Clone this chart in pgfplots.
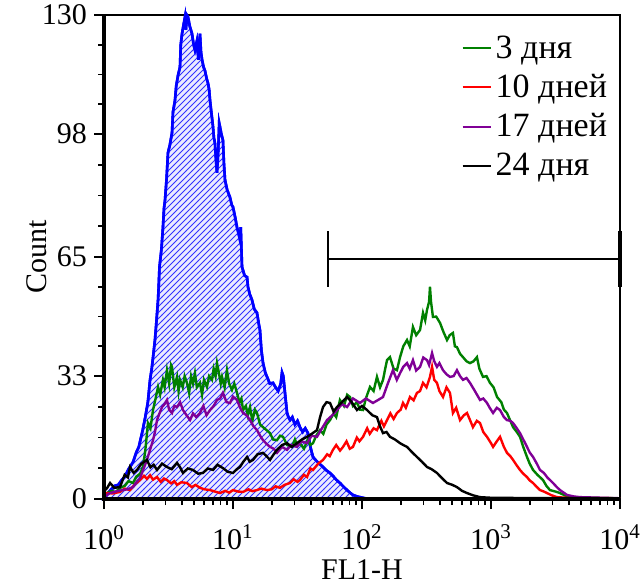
\documentclass[border=0pt]{standalone}
\usepackage{fontspec}
\setmainfont{LiberationSerif}[Extension=.ttf, UprightFont=*-Regular,
  BoldFont=*-Bold, ItalicFont=*-Italic, BoldItalicFont=*-BoldItalic]
\usepackage{pgfplots}
\pgfplotsset{compat=1.18}
\usetikzlibrary{patterns}

\definecolor{cgreen}{RGB}{0,128,0}
\definecolor{cred}{RGB}{255,0,0}
\definecolor{cpurple}{RGB}{128,0,150}
\definecolor{cblue}{RGB}{0,0,255}

% x values are log10(FL1-H), y values are counts
\pgfplotstableread{
lx count
0.00 0
0.03 1.5
0.05 2.4
0.08 3.5
0.11 3.8
0.14 5.2
0.16 5.9
0.19 8.0
0.225 9.9
0.25 12.5
0.27 14.0
0.30 18.5
0.32 22
0.34 26
0.357 32
0.37 35
0.38 38
0.395 42.7
0.405 47
0.419 53.5
0.425 58
0.43 62.3
0.445 67
0.457 73
0.465 78
0.473 80.3
0.485 86
0.496 93
0.51 95
0.527 98.3
0.535 104
0.550 107
0.56 111
0.575 114
0.589 116
0.595 122
0.605 125
0.615 127
0.628 129.5
0.635 126
0.642 130
0.651 129.5
0.665 127
0.682 125
0.695 122
0.705 120.6
0.72 123
0.732 118
0.744 125
0.752 120
0.760 118
0.772 116
0.783 115
0.795 113
0.806 111.7
0.815 110
0.822 107
0.835 103
0.845 100
0.852 97
0.860 95.6
0.868 91
0.876 87.6
0.885 93
0.893 101
0.899 100
0.91 98
0.922 96.4
0.93 90
0.938 85.7
0.955 83
0.977 81
0.99 79
1.0 78.4
1.015 76
1.031 73
1.045 71
1.054 69.6
1.06 73
1.070 62.3
1.09 60
1.109 59.6
1.116 57
1.13 55
1.147 53.5
1.165 51
1.186 50
1.20 47
1.209 45.4
1.22 40
1.233 36.5
1.25 34
1.264 32.8
1.285 31
1.31 31.2
1.33 30
1.35 29
1.37 31
1.38 34
1.39 33
1.403 28.5
1.419 23.1
1.43 22
1.442 21.2
1.46 22
1.48 20
1.50 21
1.519 19.3
1.54 18
1.56 19
1.581 17.7
1.60 14
1.620 11.3
1.64 10.5
1.66 9.8
1.698 8.6
1.72 7.8
1.752 7.0
1.78 6
1.80 5.2
1.829 4.3
1.86 3.2
1.884 2.4
1.91 1.6
1.930 1.1
1.96 0.7
1.984 0.5
2.05 0
4.0 0
}\control

\pgfplotstableread{
lx count
0.00 0.8
0.023 1.6
0.06 2.2
0.09 1.8
0.124 3.0
0.16 3.5
0.19 4.8
0.225 4.3
0.25 6.0
0.28 6.8
0.302 8.6
0.32 13
0.341 20.4
0.36 19
0.380 23.9
0.40 27
0.419 30.1
0.435 28
0.457 32
0.47 30
0.488 34.6
0.505 31
0.52 36
0.527 35.5
0.545 30
0.566 32.8
0.578 29
0.589 32
0.61 30
0.625 33
0.643 31.2
0.66 28.5
0.675 33
0.69 31
0.705 33.8
0.72 30
0.744 31.2
0.76 28
0.775 32
0.798 30.1
0.815 33
0.837 32
0.85 35
0.865 33
0.876 36.5
0.89 34
0.905 31
0.915 32.8
0.935 30
0.953 34.6
0.97 31
0.992 29.3
1.01 31
1.031 28.5
1.05 26
1.065 27
1.078 23.9
1.10 25
1.115 22.5
1.132 24.7
1.15 21
1.17 24
1.186 23.1
1.21 20
1.233 19.3
1.26 18.5
1.287 17.7
1.31 16
1.341 15.8
1.365 17
1.388 16.7
1.42 14.5
1.457 14.0
1.48 16
1.50 14.2
1.519 15.0
1.55 13.5
1.58 16
1.60 14.5
1.620 15.0
1.645 17
1.674 18.5
1.70 17.5
1.725 20
1.752 21.2
1.78 23
1.80 22
1.829 26.6
1.86 25
1.885 28
1.907 27.4
1.93 25
1.96 26
1.985 24
2.008 23.9
2.03 27
2.062 30.1
2.09 29
2.116 32.8
2.14 30
2.163 32
2.18 35
2.194 37.3
2.217 38.1
2.245 35
2.271 34.6
2.295 38.1
2.32 41
2.349 42.7
2.37 41
2.395 46.2
2.42 44
2.450 45.4
2.473 50
2.49 48
2.504 50.8
2.52 53
2.527 57
2.535 53
2.550 48.9
2.575 49
2.605 47.3
2.63 45
2.659 42.7
2.68 44
2.705 44.6
2.72 41
2.736 40.8
2.76 39
2.783 38.1
2.81 37
2.837 36.5
2.865 37
2.891 38.1
2.91 35
2.938 32.8
2.965 33
2.992 31.2
3.02 30
3.047 27.4
3.08 26
3.10 24
3.124 23.1
3.15 21
3.171 19.3
3.20 18
3.225 16.7
3.25 14
3.279 11.3
3.30 9.5
3.326 7.8
3.36 6.5
3.403 5.1
3.43 3.5
3.457 2.4
3.50 2.0
3.535 1.6
3.57 1.0
3.612 0.5
3.70 0.3
4.0 0.2
}\dayiii

\pgfplotstableread{
lx count
0.00 0.5
0.023 1.6
0.07 1.5
0.124 1.9
0.16 2.8
0.202 2.4
0.24 4.0
0.279 5.1
0.31 6.2
0.333 5.4
0.357 6.4
0.38 5.2
0.411 5.9
0.44 4.6
0.465 5.5
0.488 5.1
0.52 4.2
0.545 4.8
0.566 3.8
0.60 4.5
0.643 4.3
0.68 3.2
0.71 3.8
0.744 3.0
0.78 2.6
0.822 2.4
0.86 2.0
0.899 1.6
0.94 2.2
0.97 1.7
1.0 2.4
1.04 2.0
1.078 1.9
1.12 2.6
1.15 2.1
1.186 2.4
1.22 2.8
1.264 2.4
1.30 2.6
1.33 3.4
1.364 3.0
1.40 3.8
1.442 4.3
1.47 5.3
1.50 4.6
1.519 5.1
1.55 6.5
1.574 5.9
1.60 8.2
1.620 7.8
1.66 9.5
1.698 10.5
1.73 12
1.75 11.5
1.775 13.2
1.80 14.5
1.83 13
1.853 14.0
1.88 15.5
1.905 13.5
1.930 14.0
1.96 16.5
1.98 15.5
2.008 16.7
2.04 19
2.06 17.5
2.09 19
2.116 18.5
2.15 21
2.17 19.5
2.194 21.2
2.22 23
2.245 21.5
2.271 23.1
2.30 24
2.318 25.8
2.34 24.5
2.372 27.4
2.40 26.5
2.426 28.5
2.45 29
2.473 31.2
2.50 30
2.527 32.8
2.543 35.5
2.56 32
2.581 31.2
2.60 29
2.628 27.4
2.655 30
2.682 28.5
2.705 23.1
2.73 24.5
2.760 21.2
2.79 22.5
2.814 23.1
2.84 21
2.860 19.3
2.89 21
2.915 20.4
2.94 18
2.969 16.7
3.0 15
3.016 14.0
3.045 15.5
3.070 16.7
3.10 14
3.124 12.4
3.15 11.5
3.171 10.5
3.20 9
3.225 7.8
3.25 6.8
3.279 5.9
3.30 5
3.326 4.3
3.35 3.4
3.380 2.4
3.41 2.0
3.434 1.6
3.47 1.0
3.512 0.5
3.60 0.3
4.0 0.2
}\dayx

\pgfplotstableread{
lx count
0.00 0.6
0.047 1.6
0.09 2.0
0.140 2.4
0.18 2.6
0.225 3.2
0.25 4.5
0.279 5.6
0.30 7.5
0.333 10.5
0.355 13
0.380 15.8
0.395 18
0.411 21.2
0.43 23
0.450 24.7
0.47 25.5
0.488 26.6
0.505 24
0.527 23.1
0.545 25
0.566 24.7
0.59 26
0.612 23.9
0.64 22.5
0.667 21.2
0.69 23
0.715 22
0.744 23.1
0.77 25
0.795 22.5
0.822 23.9
0.85 25
0.876 26.6
0.90 27
0.922 28.5
0.95 26
0.977 25.8
1.0 27.5
1.031 26.6
1.055 24.5
1.078 23.1
1.105 22.5
1.132 21.2
1.16 19.5
1.186 18.5
1.21 17
1.233 15.8
1.26 14.8
1.287 14.0
1.315 13.5
1.341 12.4
1.38 14
1.419 13.2
1.45 14.5
1.496 14.0
1.53 15.5
1.574 15.0
1.61 17
1.651 16.7
1.69 19
1.729 21.2
1.77 22.5
1.806 23.9
1.845 25.5
1.884 24.7
1.93 27
1.984 25.8
2.03 27
2.085 25.8
2.12 26.5
2.163 27.4
2.20 31
2.240 34.6
2.27 32
2.295 33.8
2.32 35.5
2.349 36.5
2.37 35
2.395 37.3
2.42 34.5
2.450 35.5
2.475 38
2.504 37.3
2.52 36
2.543 39.2
2.56 37
2.581 35.5
2.60 36.5
2.628 34.6
2.655 33.5
2.682 32.8
2.71 33
2.736 34.6
2.76 33
2.783 32.0
2.81 32.5
2.837 31.2
2.875 29
2.915 26.6
2.94 27
2.969 25.8
2.99 24.5
3.016 23.1
3.045 24.5
3.070 23.9
3.10 22
3.124 21.2
3.15 21
3.171 20.4
3.20 19
3.225 17.7
3.25 16
3.279 14.0
3.30 12.5
3.326 11.3
3.355 9.5
3.380 7.8
3.41 7
3.434 5.9
3.46 5
3.481 4.3
3.51 3.2
3.535 2.4
3.56 1.8
3.589 1.1
3.640 0.7
3.690 0.5
4.0 0.2
}\dayxvii

\pgfplotstableread{
lx count
0.00 2.1
0.025 3.0
0.047 4.3
0.08 3.0
0.124 3.2
0.16 6.5
0.185 5.8
0.202 8.6
0.23 7.0
0.256 7.8
0.29 9.5
0.333 10.5
0.36 8.5
0.385 9.2
0.411 7.8
0.45 9.5
0.488 8.6
0.525 8.0
0.566 9.7
0.59 8.5
0.612 7.0
0.65 8.2
0.690 7.8
0.73 6.8
0.767 7.0
0.805 8.2
0.845 7.8
0.88 9.2
0.922 8.3
0.96 7.3
1.0 7.0
1.03 8.0
1.054 8.6
1.08 10
1.109 11.3
1.13 10
1.155 10.5
1.19 12
1.233 12.4
1.26 11.5
1.287 10.5
1.315 12
1.341 13.2
1.38 14.5
1.419 15.0
1.455 14
1.496 15.0
1.535 16
1.574 16.7
1.61 17.5
1.651 18.5
1.675 22
1.698 24.7
1.725 26
1.752 25.8
1.78 23.5
1.806 24.7
1.845 26
1.884 27.4
1.92 26
1.961 23.9
2.0 25
2.039 23.9
2.08 22.5
2.116 22.0
2.14 19.5
2.163 17.7
2.19 18
2.217 16.7
2.255 16
2.295 15.0
2.32 14.5
2.349 14.0
2.39 12.5
2.426 11.3
2.465 10
2.504 8.6
2.54 8
2.581 7.0
2.62 5.6
2.659 4.3
2.70 3.8
2.736 3.2
2.775 2.2
2.814 1.6
2.86 1.0
2.915 0.5
3.016 0.3
4.0 0.2
}\dayxxiv

\begin{document}
\begin{tikzpicture}
\begin{axis}[
  scale only axis, width=258pt, height=242pt,
  xmin=0, xmax=4, ymin=0, ymax=130,
  xtick={0,1,2,3,4},
  xticklabels={10\textsuperscript{0},10\textsuperscript{1},10\textsuperscript{2},10\textsuperscript{3},10\textsuperscript{4}},
  minor xtick={0.301,0.477,0.602,0.699,0.778,0.845,0.903,0.954,
    1.301,1.477,1.602,1.699,1.778,1.845,1.903,1.954,
    2.301,2.477,2.602,2.699,2.778,2.845,2.903,2.954,
    3.301,3.477,3.602,3.699,3.778,3.845,3.903,3.954},
  ytick={0,33,65,98,130}, yticklabels={0,33,65,98,130},
  minor ytick={8.25,16.5,24.75,41,49,57,73.25,81.5,89.75,106,114,122},
  tick align=outside, tick pos=left,
  major tick length=5pt, minor tick length=3pt,
  tick style={black, line width=0.9pt},
  axis line style={line width=1.3pt},
  ticklabel style={font=\fontsize{15}{17}\selectfont},
  xticklabel style={yshift=-4.5pt},
  label style={font=\fontsize{15}{17}\selectfont},
  xlabel={FL1-H}, ylabel={Count},
  xlabel style={at={(axis description cs:0.5,-0.12)}, anchor=north, inner sep=1pt},
  ylabel style={at={(axis description cs:-0.097,0.5)}, anchor=south},
  clip=false,
  legend style={draw=none, fill=none, at={(axis description cs:0.995,0.975)},
    anchor=north east, font=\fontsize{17}{19}\selectfont, row sep=2.6pt},
  legend cell align=left,
  legend image code/.code={\draw[#1, line width=1pt] (0pt,0pt) -- (14pt,0pt);},
]
\addplot[cblue, line width=1.3pt, fill=blue!8,
  postaction={pattern=north east lines, pattern color=cblue!80}, forget plot]
  table[x=lx, y=count] {\control} \closedcycle;
\addplot[cgreen, line width=1.2pt] table[x=lx, y=count] {\dayiii};
\addplot[cred, line width=1.2pt] table[x=lx, y=count] {\dayx};
\addplot[cpurple, line width=1.2pt] table[x=lx, y=count] {\dayxvii};
\addplot[black, line width=1.2pt] table[x=lx, y=count] {\dayxxiv};
\legend{3 дня, 10 дней, 17 дней, 24 дня}
% gate marker
\addplot[black, line width=1pt, forget plot] coordinates {(1.736,57) (1.736,72)};
\addplot[black, line width=1pt, forget plot] coordinates {(1.736,64.5) (4,64.5)};
\addplot[black, line width=2pt, forget plot] coordinates {(4,57) (4,72)};
\draw[line width=2.3pt] (rel axis cs:0,1) -- (rel axis cs:0,0) -- (rel axis cs:1,0);
\coordinate (bl) at (rel axis cs:0,0);
\coordinate (tr) at (rel axis cs:1,1);
\end{axis}
\pgfresetboundingbox
\useasboundingbox ([shift={(-52pt,-43pt)}]bl) rectangle ([shift={(11pt,7.5pt)}]tr);
\end{tikzpicture}
\end{document}
